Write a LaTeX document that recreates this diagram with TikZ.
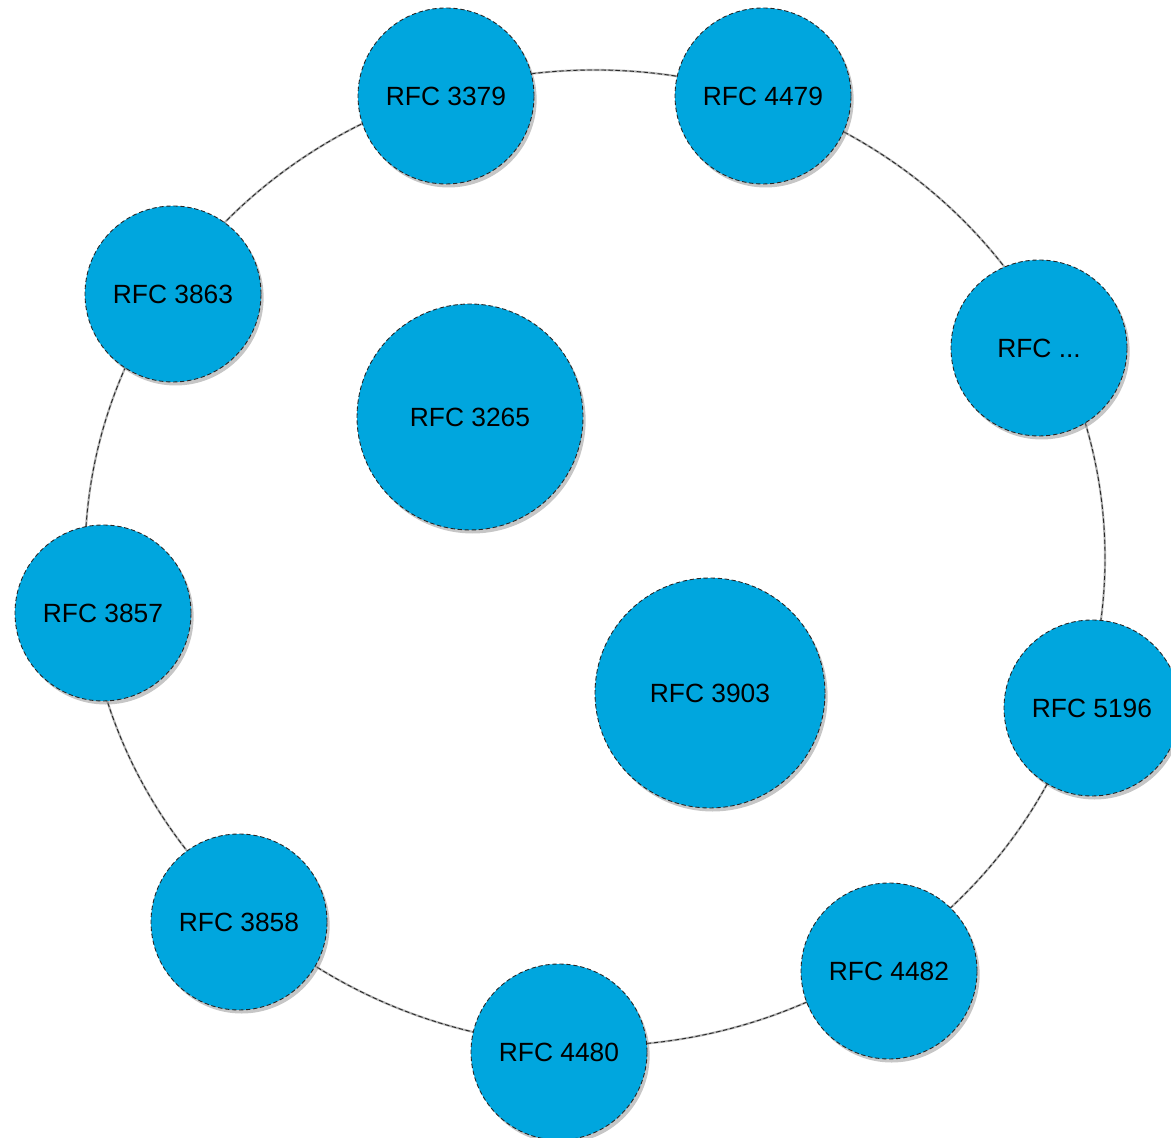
\documentclass[tikz,border=0pt]{standalone}
\usepackage{fontspec}
\setmainfont{Liberation Sans}
\usetikzlibrary{shadows}
\definecolor{RfcBlue}{RGB}{0,166,222}
\tikzset{
	rfcdash/.style={draw=black!85,dash pattern=on 2.5pt off 1.5pt,line width=0.5pt},
	rfc/.style={circle,rfcdash,fill=RfcBlue,minimum size=3.52cm,inner sep=0pt,font=\fontsize{15}{18}\selectfont,drop shadow={opacity=0.45,shadow xshift=1.5pt,shadow yshift=-2pt}},
	bigrfc/.style={rfc,minimum size=4.52cm}
}
\begin{document}
\begin{tikzpicture}
	\useasboundingbox (0,0) rectangle (23.42,22.76);
	\coordinate (Center) at (11.9,11.6);

	% ring
	\draw [black!30,line width=1.2pt,shift={(0.05,-0.06)}] (Center) ellipse [x radius=10.2cm,y radius=9.76cm];
	\draw [rfcdash] (Center) ellipse [x radius=10.2cm,y radius=9.76cm];

	\node[rfc] (RFC3379) at (8.92,20.84) {RFC 3379};
	\node[rfc] (RFC4479) at (15.26,20.84) {RFC 4479};
	\node[rfc] (RFC3863) at (3.46,16.88) {RFC 3863};
	\node[rfc] (RFCDots) at (20.78,15.80) {RFC ...};
	\node[rfc] (RFC3857) at (2.06,10.50) {RFC 3857};
	\node[rfc] (RFC5196) at (21.84,8.60) {RFC 5196};
	\node[rfc] (RFC3858) at (4.78,4.32) {RFC 3858};
	\node[rfc] (RFC4480) at (11.18,1.72) {RFC 4480};
	\node[rfc] (RFC4482) at (17.78,3.34) {RFC 4482};

	\node[bigrfc] (RFC3265) at (9.40,14.42) {RFC 3265};
	\node[bigrfc,minimum size=4.6cm] (RFC3903) at (14.20,8.90) {RFC 3903};
\end{tikzpicture}
\end{document}
